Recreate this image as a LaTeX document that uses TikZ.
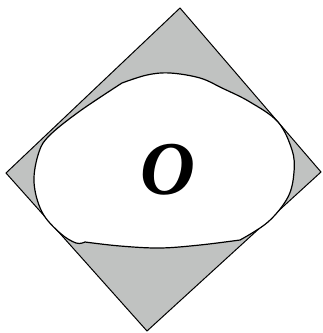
\documentclass[tikz,border=0pt]{standalone}
\usepackage{fontspec}
\usepackage{xcolor}
\usepackage{tikz}
\usetikzlibrary{calc}
\newfontfamily\timesfont{Liberation Serif}
\definecolor{plategray}{RGB}{192,194,193}
\tikzset{
plate/.style={
draw=black,
fill=plategray,
line width=1pt,
line join=miter
},
blob/.style={
draw=black,
fill=white,
line width=1.2pt,
line join=round
},
label/.style={
font=\timesfont\fontsize{76}{76}\selectfont\bfseries\itshape,
inner sep=0pt
}
}

\begin{document}
\begin{tikzpicture}[x=1pt,y=-1pt]
\useasboundingbox (0,0) rectangle (323,333);
% corners of the square
\coordinate (t) at (180,8);
\coordinate (r) at (321,172);
\coordinate (b) at (147,331);
\coordinate (l) at (6,173);
\draw[plate](t)--(r)--(b)--(l)--cycle;

% inner region
\draw[blob] plot[smooth,tension=0.6] coordinates {(122,83)(147,75)(170,73)(200,78)(222,88)(250,102)(278,122)(292,150)(294,172)(288,197)(268,222)(240,240)}
-- plot[smooth,tension=0.6] coordinates {(240,240)(200,245)(160,248)(120,246)(85,242)}
-- plot[smooth,tension=0.6] coordinates {(85,242)(76,243)(60,233)(42,212)(34,182)(39,152)(50,135)(80,111)(122,83)}
-- cycle;

\node[label](o) at (168,170){O};
\end{tikzpicture}
\end{document}
